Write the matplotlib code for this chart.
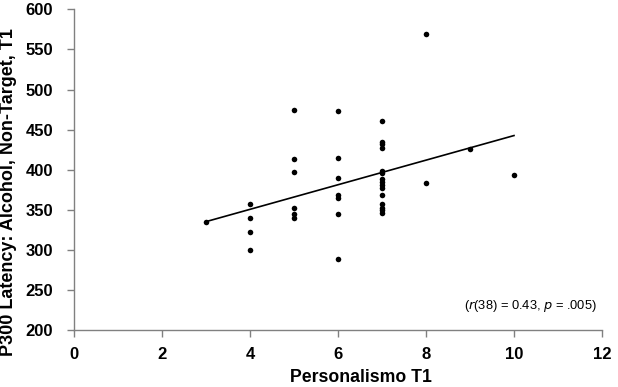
import numpy as np
import matplotlib
matplotlib.use("Agg")
import matplotlib.pyplot as plt

# Data
x_vals = [3,
          4, 4, 4, 4,
          5, 5, 5, 5, 5, 5,
          6, 6, 6, 6, 6, 6, 6,
          7, 7, 7, 7, 7, 7, 7, 7, 7, 7, 7, 7, 7, 7, 7,
          8, 8,
          9,
          10]
y_vals = [335,
          358, 340, 322, 300,
          474, 413, 397, 353, 345, 340,
          473, 415, 390, 368, 365, 345, 289,
          461, 435, 432, 427, 399, 396, 389, 385, 381, 377, 368, 357, 353, 350, 346,
          569, 383,
          426,
          393]
x_ticks = [0, 2, 4, 6, 8, 10, 12]
y_ticks = [200, 250, 300, 350, 400, 450, 500, 550, 600]

plt.rcParams['font.family'] = ['Liberation Sans', 'DejaVu Sans']

fig = plt.figure(figsize=(6.18, 3.87), dpi=100)
ax = fig.add_axes([74/618, 1-330.3/387, 528/618, 321/387])

x = np.array(x_vals, float)
y = np.array(y_vals, float)
ax.scatter(x, y, s=16, color='black', zorder=3, linewidths=0)

slope, intercept = np.polyfit(x, y, 1)
xl = np.array([x.min(), x.max()])
ax.plot(xl, slope*xl + intercept, color='black', lw=1.2, zorder=2)

ax.set_xlim(0, 12)
ax.set_ylim(200, 600)
ax.set_xticks(x_ticks)
ax.set_yticks(y_ticks)
ax.tick_params(axis='both', colors='#808080', length=5, width=1, direction='out',
               labelcolor='black', labelsize=12)
ax.tick_params(axis='x', pad=7)
ax.tick_params(axis='y', pad=10)
for lab in ax.get_xticklabels() + ax.get_yticklabels():
    lab.set_fontweight('bold')
for s in ['top', 'right']:
    ax.spines[s].set_visible(False)
for s in ['left', 'bottom']:
    ax.spines[s].set_color('#808080')
    ax.spines[s].set_linewidth(1)

ax.set_xlabel('Personalismo T1', fontsize=12.7, fontweight='bold')
ax.xaxis.set_label_coords((361-74)/528, -(369-330.3)/321)
ax.set_ylabel('P300 Latency: Alcohol, Non-Target, T1', fontsize=13, fontweight='bold')
ax.yaxis.set_label_coords(-(74-17)/528, 0.43)

ax.text((597-74)/528, 0.075, r'($\it{r}$(38) = 0.43, $\it{p}$ = .005)', transform=ax.transAxes,
        ha='right', va='center', fontsize=9.3)

fig.savefig('out.png', dpi=100)
